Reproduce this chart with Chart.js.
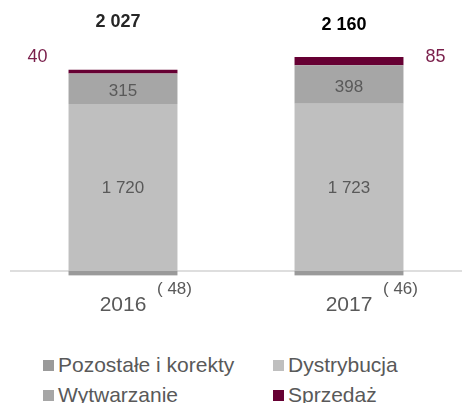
<!DOCTYPE html>
<html>
<head>
<meta charset="utf-8">
<script src="https://cdn.jsdelivr.net/npm/chart.js@4/dist/chart.umd.min.js"></script>
<style>
  body { margin: 0; background: #fff; font-family: "Liberation Sans", Arial, sans-serif; }
  #wrap { position: relative; width: 462px; height: 403px; overflow: hidden; }
  #legend { position: absolute; left: 43px; top: 353px; display: grid;
            grid-template-columns: 230px 180px; row-gap: 6px; color: #595959; font-size: 21px; }
  #legend div { display: flex; align-items: center; height: 24px; white-space: nowrap; }
  #legend span.box { width: 11px; height: 11px; margin-right: 4px; display: inline-block; }
</style>
</head>
<body>
<div id="wrap">
  <canvas id="chart" width="462" height="335"></canvas>
  <div id="legend"></div>
</div>
<script>
"use strict";

/* data */
var years = ["2016", "2017"];
var seriesNames = ["Pozostałe i korekty", "Dystrybucja", "Wytwarzanie", "Sprzedaż"];
var otherValues = [-48, -46];
var distributionValues = [1720, 1723];
var generationValues = [315, 398];
var salesValues = [40, 85];
var totalValues = [2027, 2160];
var seriesColors = ["#9a9a9a", "#bfbfbf", "#a6a6a6", "#660033"];

var font = "'Liberation Sans', Arial, sans-serif";

// polish style numbers: space as thousands separator
function fmt(v) {
  return String(Math.abs(v)).replace(/\B(?=(\d{3})+(?!\d))/g, " ");
}

// draws the value labels next to the bars
var labelPlugin = {
  id: "valueLabels",
  afterDatasetsDraw: function (chart) {
    var ctx = chart.ctx;
    var area = chart.chartArea;
    ctx.save();
    ctx.textAlign = "center";
    ctx.textBaseline = "middle";

    // segment labels inside the bars
    [1, 2].forEach(function (di) {
      var meta = chart.getDatasetMeta(di);
      meta.data.forEach(function (bar, i) {
        var v = chart.data.datasets[di].data[i];
        var dy = di === 2 ? 3 : 1;
        ctx.font = "17px " + font;
        ctx.fillStyle = "#595959";
        ctx.fillText(fmt(v), bar.x, (bar.y + bar.base) / 2 + dy);
      });
    });

    // sales labels outside the bars
    var salesMeta = chart.getDatasetMeta(3);
    salesMeta.data.forEach(function (bar, i) {
      var half = bar.width / 2;
      var x = i === 0 ? bar.x - half - 31 : bar.x + half + 32;
      ctx.font = "18px " + font;
      ctx.fillStyle = "#7a1f4b";
      ctx.fillText(fmt(salesValues[i]), x, area.top + 48);
    });

    // totals above
    var totalDy = [13, 16];
    var totalColor = ["#262626", "#000000"];
    salesMeta.data.forEach(function (bar, i) {
      ctx.font = "bold 18px " + font;
      ctx.fillStyle = totalColor[i];
      ctx.fillText(fmt(totalValues[i]), bar.x - 5, area.top + totalDy[i]);
    });

    // negative values next to the year labels
    var xScale = chart.scales.x;
    years.forEach(function (y, i) {
      ctx.font = "17px " + font;
      ctx.fillStyle = "#595959";
      ctx.textAlign = "left";
      ctx.fillText("( " + fmt(otherValues[i]) + ")", xScale.getPixelForValue(i) + 34, xScale.top + 14);
    });
    ctx.restore();
  }
};

// zero line under the bars
var zeroLinePlugin = {
  id: "zeroLine",
  beforeDatasetsDraw: function (chart) {
    var ctx = chart.ctx;
    var y = chart.scales.y.getPixelForValue(0);
    ctx.save();
    ctx.strokeStyle = "#dedede";
    ctx.lineWidth = 2;
    ctx.beginPath();
    ctx.moveTo(chart.chartArea.left, y);
    ctx.lineTo(chart.chartArea.right, y);
    ctx.stroke();
    ctx.restore();
  }
};

var datasets = [otherValues, distributionValues, generationValues, salesValues].map(function (d, i) {
  return {
    label: seriesNames[i],
    data: d,
    backgroundColor: seriesColors[i],
    borderWidth: 0,
    barPercentage: 1,
    categoryPercentage: 0.482
  };
});

var chart = new Chart(document.getElementById("chart"), {
  type: "bar",
  data: { labels: years, datasets: datasets },
  options: {
    responsive: false,
    animation: false,
    devicePixelRatio: 1,
    layout: { padding: { left: 10, right: 0, top: 9, bottom: 0 } },
    plugins: { legend: { display: false }, tooltip: { enabled: false } },
    scales: {
      x: {
        stacked: true,
        grid: { display: false, drawTicks: false },
        border: { display: false },
        ticks: { color: "#595959", padding: 17, font: { family: font, size: 21 } }
      },
      y: {
        stacked: true,
        min: -50,
        max: 2700,
        border: { display: false },
        ticks: { display: false },
        grid: { display: false, drawTicks: false }
      }
    }
  },
  plugins: [zeroLinePlugin, labelPlugin]
});

// html legend, two columns
var legend = document.getElementById("legend");
seriesNames.forEach(function (name, i) {
  var item = document.createElement("div");
  var box = document.createElement("span");
  box.className = "box";
  box.style.background = seriesColors[i];
  item.appendChild(box);
  item.appendChild(document.createTextNode(name));
  legend.appendChild(item);
});
</script>
</body>
</html>
